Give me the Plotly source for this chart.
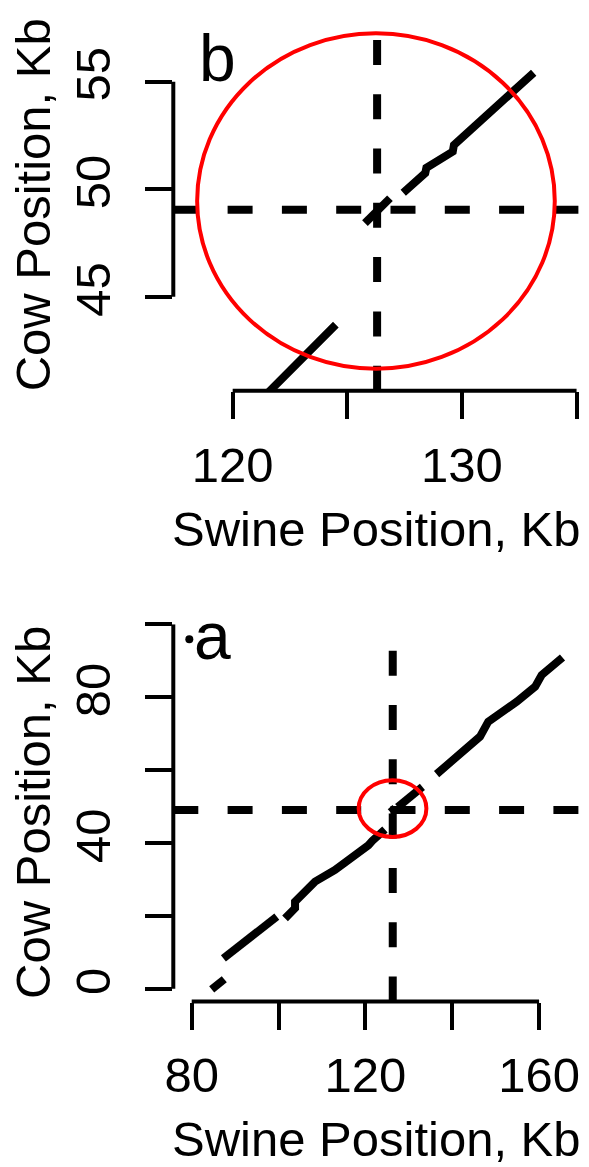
import plotly.graph_objects as go

# ------------------------------------------------------------------
# Data
# ------------------------------------------------------------------
# aligned segments, None = gap between aligned blocks
swine_kb = [84.6, 87.5, None,
            87.3, 90.7, 94.6, 96.9, 99.6, None,
            101.5, 103.8, 103.8, 108.4, 113.0, 116.8, 120.7, 121.6, 124.5, None,
            125.77, 126.86, None,
            127.44, 128.4, 128.45, 129.3, 129.6, 129.65, 133.13, None,
            136.4, 141.0, 146.4, 148.3, 151.8, 154.9, 159.1, 160.6, 165.4]
cow_kb = [-0.2, 2.6, None,
          8.3, 11.5, 14.7, 17.0, 19.8, None,
          19.3, 22.1, 23.9, 29.4, 32.6, 35.8, 39.4, 40.6, 43.7, None,
          48.42, 49.58, None,
          49.84, 50.75, 51.0, 51.6, 51.75, 52.05, 55.42, None,
          58.9, 63.7, 69.2, 73.3, 76.0, 78.8, 82.9, 86.1, 90.9]
stray_swine_kb = [79.45]
stray_cow_kb = [95.9]

breakpoint_swine_kb = 126.3
breakpoint_cow_kb = 49.04
circle_swine_kb = 126.25
circle_cow_kb = 49.45
circle_radius_kb = 7.8

# axis ranges
b_xrange = [117.41, 135.15]
b_yrange = [40.63, 57.87]
a_xrange = [75.76, 169.43]
a_yrange = [-3.51, 100.02]

# ticks
b_xticks = [120, 125, 130, 135]
b_xlabels = ["120", "", "130", ""]
b_yticks = [45, 50, 55]
b_ylabels = ["45", "50", "55"]
a_xticks = [80, 100, 120, 140, 160]
a_xlabels = ["80", "", "120", "", "160"]
a_yticks = [0, 20, 40, 60, 80, 100]
a_ylabels = ["0", "", "40", "", "80", ""]

x_title = "Swine Position, Kb"
y_title = "Cow Position, Kb"

# ------------------------------------------------------------------
PAGE_W, PAGE_H = 589, 1167
OFF = 8  # default body margin of the html page
W, H = PAGE_W - OFF, PAGE_H - OFF
FONT = "Liberation Sans, Arial, sans-serif"
FS = 49
LW = 8
DASH = "25px,29.3px"


def px_x(p):
    return (p - OFF) / W


def px_y(p):
    return 1 - (p - OFF) / H


x_dom = [px_x(173.3), px_x(580)]
b_ydom = [px_y(390.7), px_y(20)]
a_ydom = [px_y(1001.5), px_y(624.3)]

fig = go.Figure()

panels = [("x", "y", b_xrange, b_yrange), ("x2", "y2", a_xrange, a_yrange)]
for xa, ya, xr, yr in panels:
    # data line
    fig.add_trace(go.Scatter(x=swine_kb, y=cow_kb, mode="lines", xaxis=xa, yaxis=ya,
                             line=dict(color="black", width=LW), connectgaps=False,
                             hoverinfo="skip", showlegend=False))
    fig.add_trace(go.Scatter(x=stray_swine_kb, y=stray_cow_kb, mode="markers", xaxis=xa, yaxis=ya,
                             marker=dict(color="black", size=8), cliponaxis=True,
                             hoverinfo="skip", showlegend=False))
    # dashed cross
    fig.add_trace(go.Scatter(x=[xr[0], xr[1]],
                             y=[breakpoint_cow_kb, breakpoint_cow_kb], mode="lines",
                             xaxis=xa, yaxis=ya,
                             line=dict(color="black", width=LW, dash=DASH),
                             hoverinfo="skip", showlegend=False))
    fig.add_trace(go.Scatter(x=[breakpoint_swine_kb, breakpoint_swine_kb], y=[yr[0], yr[1]],
                             mode="lines", xaxis=xa, yaxis=ya,
                             line=dict(color="black", width=LW, dash=DASH),
                             hoverinfo="skip", showlegend=False))
    # red circle
    fig.add_shape(type="circle", xref=xa, yref=ya,
                  x0=circle_swine_kb - circle_radius_kb, x1=circle_swine_kb + circle_radius_kb,
                  y0=circle_cow_kb - circle_radius_kb, y1=circle_cow_kb + circle_radius_kb,
                  line=dict(color="#ff0000", width=4), layer="above")

# R-style axis lines spanning first to last tick
for xa, ya, xt, yt, ydom in [("x", "y", b_xticks, b_yticks, b_ydom),
                              ("x2", "y2", a_xticks, a_yticks, a_ydom)]:
    fig.add_shape(type="line", xref=xa, yref="paper", x0=min(xt), x1=max(xt),
                  y0=ydom[0], y1=ydom[0], line=dict(color="black", width=4))
    fig.add_shape(type="line", xref="paper", yref=ya, x0=x_dom[0], x1=x_dom[0],
                  y0=min(yt), y1=max(yt), line=dict(color="black", width=4))

axis_common = dict(showgrid=False, zeroline=False, showline=False, ticks="outside",
                   ticklen=27, tickwidth=4, tickcolor="black", automargin=False,
                   tickfont=dict(family=FONT, size=FS, color="black"), fixedrange=True)

fig.update_layout(
    template="none",
    width=W, height=H,
    margin=dict(l=0, r=0, t=0, b=0, pad=0),
    paper_bgcolor="white", plot_bgcolor="white",
    xaxis=dict(domain=x_dom, range=b_xrange, anchor="y", tickmode="array",
               tickvals=b_xticks, ticktext=b_xlabels, tickangle=0, ticklabelstandoff=4,
               **axis_common),
    yaxis=dict(domain=b_ydom, range=b_yrange, anchor="x", tickmode="array",
               tickvals=b_yticks, ticktext=b_ylabels, tickangle=-90, ticklabelstandoff=16,
               **axis_common),
    xaxis2=dict(domain=x_dom, range=a_xrange, anchor="y2", tickmode="array",
                tickvals=a_xticks, ticktext=a_xlabels, tickangle=0, ticklabelstandoff=4,
                **axis_common),
    yaxis2=dict(domain=a_ydom, range=a_yrange, anchor="x2", tickmode="array",
                tickvals=a_yticks, ticktext=a_ylabels, tickangle=-90, ticklabelstandoff=16,
                **axis_common),
)

ann_font = dict(family=FONT, size=FS, color="black")
cx = (173.3 + 580) / 2
annotations = [
    dict(text=x_title, x=px_x(cx), y=px_y(529), xanchor="center", yanchor="middle"),
    dict(text=x_title, x=px_x(cx), y=px_y(1139), xanchor="center", yanchor="middle"),
    dict(text=y_title, x=px_x(33), y=px_y((20 + 390.7) / 2), xanchor="center",
         yanchor="middle", textangle=-90),
    dict(text=y_title, x=px_x(33), y=px_y((624.3 + 1001.5) / 2), xanchor="center",
         yanchor="middle", textangle=-90),
    dict(text="b", x=px_x(197), y=px_y(58), xanchor="left", yanchor="middle",
         font=dict(family=FONT, size=66, color="black")),
    dict(text="a", x=px_x(192), y=px_y(636), xanchor="left", yanchor="middle",
         font=dict(family=FONT, size=66, color="black")),
]
for a in annotations:
    a.setdefault("font", ann_font)
    a.update(xref="paper", yref="paper", showarrow=False)
fig.update_layout(annotations=annotations)

fig.write_html("out.html")
